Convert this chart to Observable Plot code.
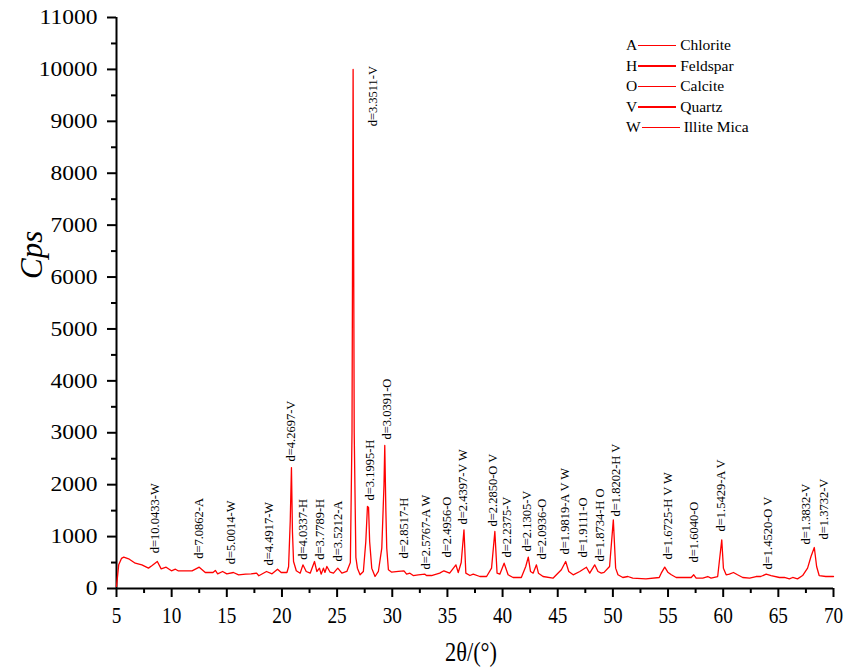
<!DOCTYPE html>
<html>
<head>
<meta charset="utf-8">
<script src="https://cdn.jsdelivr.net/npm/d3@7"></script>
<script src="https://cdn.jsdelivr.net/npm/@observablehq/plot@0.6"></script>
<style>
  html, body { margin: 0; padding: 0; background: #fff; }
  #wrap { position: relative; width: 859px; height: 670px; font-family: 'Liberation Serif', serif; }
  #wrap svg, #wrap svg text { font-family: 'Liberation Serif', serif !important; }
  #legend { position: absolute; left: 626px; top: 35px; font-size: 15.5px; color: #000; line-height: 20.6px; font-family: 'Liberation Serif', serif; }
  #legend .row { display: flex; align-items: center; white-space: nowrap; }
  #legend .ln { display: inline-block; width: 38px; height: 1.3px; background: #ff0000; margin: 0 4px 0 1px; }
</style>
</head>
<body>
<div id="wrap"><div id="legend"></div></div>
<script>
// Diffraction pattern (2θ in degrees, intensity in counts per second)
const twoTheta = [5.0,5.2,5.45,5.66,6.1,6.7,7.3,7.9,8.2,8.7,9.05,9.5,9.98,10.34,10.58,11.85,12.5,13.05,13.75,13.96,14.17,14.62,15.0,15.6,16.07,16.7,17.2,17.7,17.9,18.6,19.1,19.6,19.93,20.45,20.6,20.75,20.86,20.95,21.05,21.3,21.65,21.9,22.2,22.56,22.95,23.16,23.4,23.55,23.76,23.9,24.07,24.37,24.67,25.06,25.43,25.88,26.2,26.35,26.45,26.55,26.7,26.84,27.08,27.38,27.6,27.75,27.85,27.95,28.14,28.44,28.74,29.05,29.25,29.32,29.42,29.5,29.65,29.95,30.55,31.06,31.3,31.6,31.9,32.36,32.96,33.1,33.56,34.3,34.68,35.2,35.77,35.98,36.25,36.5,36.67,37.04,37.34,37.94,38.55,39.0,39.3,39.5,39.75,40.14,40.5,40.95,41.7,42.1,42.33,42.53,42.77,43.07,43.25,43.67,44.57,45.33,45.72,46.0,46.4,47.0,47.6,47.9,48.35,48.65,48.95,49.2,49.7,50.04,50.25,50.46,50.9,51.36,51.8,53.0,54.2,54.38,54.7,54.98,55.3,55.74,57.1,57.33,57.55,58.15,58.6,58.9,59.5,59.65,59.87,60.02,60.27,60.56,60.93,61.3,61.77,62.4,62.98,63.4,63.9,64.34,65.1,65.55,66.0,66.3,66.74,67.2,67.65,67.96,68.26,68.47,68.7,69.3,70.0];
const cps = [40,456,580,603,572,488,456,392,437,520,379,411,341,372,341,341,411,308,308,347,283,328,283,308,264,276,283,295,245,328,283,372,308,308,420,1300,2330,1100,520,341,295,456,328,295,520,328,392,276,392,310,424,314,295,392,295,328,500,3000,10000,3000,600,392,264,328,900,1580,1560,900,392,231,328,776,2000,2756,1500,776,360,314,328,341,276,295,250,264,276,250,250,295,341,295,456,308,500,1131,295,250,276,231,231,392,1098,295,276,488,264,212,212,424,603,328,295,456,295,231,199,360,520,328,264,328,410,295,456,328,295,310,424,1323,392,264,212,231,199,186,212,295,411,314,264,212,212,264,199,199,231,199,231,520,938,392,264,276,308,264,212,199,231,231,276,250,212,212,186,212,186,250,392,616,790,424,250,231,231];

// Peak annotations (label text, 2θ position, intensity where the label starts)
const peakLabels = ["d=10.0433-W","d=7.0862-A","d=5.0014-W","d=4.4917-W","d=4.2697-V","d=4.0337-H","d=3.7789-H","d=3.5212-A","d=3.3511-V","d=3.1995-H","d=3.0391-O","d=2.8517-H","d=2.5767-A W","d=2.4956-O","d=2.4397-V W","d=2.2850-O V","d=2.2375-V","d=2.1305-V","d=2.0936-O","d=1.9819-A V W","d=1.9111-O","d=1.8734-H O","d=1.8202-H V","d=1.6725-H V W","d=1.6040-O","d=1.5429-A V","d=1.4520-O V","d=1.3832-V","d=1.3732-V"];
const peakX = [8.53,12.51,15.41,18.78,20.86,21.9,23.49,25.06,28.23,27.99,29.5,31.04,33.05,34.93,36.43,39.15,40.36,42.17,43.53,45.63,47.29,48.8,50.31,54.98,57.33,59.81,64.03,67.5,69.16];
const peakY = [680,572,468,443,2447,553,553,520,8903,1696,2871,578,366,597,1233,1195,597,713,559,655,597,520,1387,559,501,1098,366,848,944];

// Axis ticks
const xMajor = [5,10,15,20,25,30,35,40,45,50,55,60,65,70];
const xMinor = [7.5,12.5,17.5,22.5,27.5,32.5,37.5,42.5,47.5,52.5,57.5,62.5,67.5];
const yMajor = [0,1000,2000,3000,4000,5000,6000,7000,8000,9000,10000,11000];
const yMinor = [500,1500,2500,3500,4500,5500,6500,7500,8500,9500,10500];

// Legend
const legendCodes = ["A","H","O","V","W"];
const legendNames = ["Chlorite","Feldspar","Calcite","Quartz","Illite Mica"];

const xTitle = "2θ/(°)";
const yTitle = "Cps";

const chart = Plot.plot({
  width: 859,
  height: 670,
  marginLeft: 116,
  marginRight: 26,
  marginTop: 17,
  marginBottom: 82,
  x: {domain: [5, 70]},
  y: {domain: [0, 11000]},
  style: {fontFamily: "'Liberation Serif', serif", background: "#fff", color: "#000"},
  marks: [
    Plot.axisX({ticks: xMajor, tickSize: 9, tickPadding: 8, fontSize: 24, strokeWidth: 2, tickFormat: d => `${d}`, label: null}),
    Plot.axisX({ticks: xMinor, tickSize: 5, strokeWidth: 2, text: null, label: null}),
    Plot.axisY({ticks: yMajor, tickSize: 9, tickPadding: 10, fontSize: 21, strokeWidth: 2, tickFormat: d => `${d}`, label: null}),
    Plot.axisY({ticks: yMinor, tickSize: 5, strokeWidth: 2, text: null, label: null}),
    Plot.ruleY([0], {stroke: "#000", strokeWidth: 2}),
    Plot.ruleX([5], {stroke: "#000", strokeWidth: 2}),
    Plot.line(cps, {x: twoTheta, y: cps, stroke: "#ff0000", strokeWidth: 1.3}),
    Plot.text(peakLabels, {x: peakX, y: peakY, text: peakLabels, rotate: -90, textAnchor: "start", fontSize: 12.5, fill: "#000"}),
    Plot.text([yTitle], {frameAnchor: "left", text: d => d, rotate: -90, dx: -84, dy: -24, fontSize: 31, fontStyle: "italic", fill: "#000"}),
    Plot.text([xTitle], {frameAnchor: "bottom", text: d => d, dx: -4, dy: 72, fontSize: 28, fill: "#000"})
  ]
});

// reproduce the reference's stretched glyphs: condensed x labels, wider y labels
const xStr = new Set(xMajor.map(String));
const yStr = new Set(yMajor.map(String));
function stretchText(el, sx) {
  const t = el.getAttribute("transform");
  if (t && t.includes("translate")) {
    el.setAttribute("transform", t + ` scale(${sx},1)`);
  } else {
    const x = +(el.getAttribute("x") || 0), y = +(el.getAttribute("y") || 0);
    el.removeAttribute("x"); el.removeAttribute("y");
    el.setAttribute("transform", `translate(${x},${y}) ${t || ""} scale(${sx},1)`);
  }
}
d3.select(chart).selectAll("text").each(function() {
  const s = this.textContent;
  if (s === xTitle || xStr.has(s)) stretchText(this, 0.8);
  else if (yStr.has(s)) stretchText(this, 1.12);
});

const wrap = document.getElementById("wrap");
wrap.insertBefore(chart, wrap.firstChild);

const legend = d3.select("#legend");
legendCodes.forEach((c, i) => {
  const row = legend.append("div").attr("class", "row");
  row.append("span").text(c);
  row.append("span").attr("class", "ln");
  row.append("span").text(legendNames[i]);
});
</script>
</body>
</html>
